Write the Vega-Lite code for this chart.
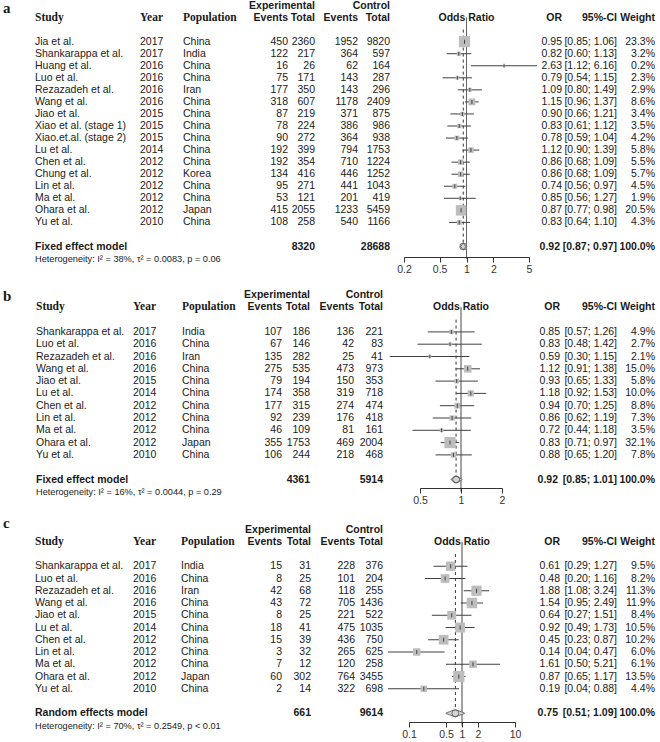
{
"$schema":"https://vega.github.io/schema/vega-lite/v6.json",
"padding":0,
"background":"white",
"spacing":0,
"config":{"view":{"stroke":null},"text":{"font":"Liberation Sans","fontSize":10.5,"color":"#1a1a1a","baseline":"middle"}},
"datasets":{
"a":[
{"study":"Jia et al.","year":2017,"pop":"China","ee":450,"et":2360,"ce":1952,"ct":9820,"or":0.95,"lo":0.85,"hi":1.06,"ci":"[0.85; 1.06]","w":0.233},
{"study":"Shankarappa et al.","year":2017,"pop":"India","ee":122,"et":217,"ce":364,"ct":597,"or":0.82,"lo":0.60,"hi":1.13,"ci":"[0.60; 1.13]","w":0.032},
{"study":"Huang et al.","year":2016,"pop":"China","ee":16,"et":26,"ce":62,"ct":164,"or":2.63,"lo":1.12,"hi":6.16,"ci":"[1.12; 6.16]","w":0.002},
{"study":"Luo et al.","year":2016,"pop":"China","ee":75,"et":171,"ce":143,"ct":287,"or":0.79,"lo":0.54,"hi":1.15,"ci":"[0.54; 1.15]","w":0.023},
{"study":"Rezazadeh et al.","year":2016,"pop":"Iran","ee":177,"et":350,"ce":143,"ct":296,"or":1.09,"lo":0.80,"hi":1.49,"ci":"[0.80; 1.49]","w":0.029},
{"study":"Wang et al.","year":2016,"pop":"China","ee":318,"et":607,"ce":1178,"ct":2409,"or":1.15,"lo":0.96,"hi":1.37,"ci":"[0.96; 1.37]","w":0.086},
{"study":"Jiao et al.","year":2015,"pop":"China","ee":87,"et":219,"ce":371,"ct":875,"or":0.90,"lo":0.66,"hi":1.21,"ci":"[0.66; 1.21]","w":0.034},
{"study":"Xiao et al. (stage 1)","year":2015,"pop":"China","ee":78,"et":224,"ce":386,"ct":986,"or":0.83,"lo":0.61,"hi":1.12,"ci":"[0.61; 1.12]","w":0.035},
{"study":"Xiao.et.al. (stage 2)","year":2015,"pop":"China","ee":90,"et":272,"ce":364,"ct":938,"or":0.78,"lo":0.59,"hi":1.04,"ci":"[0.59; 1.04]","w":0.042},
{"study":"Lu et al.","year":2014,"pop":"China","ee":192,"et":399,"ce":794,"ct":1753,"or":1.12,"lo":0.90,"hi":1.39,"ci":"[0.90; 1.39]","w":0.058},
{"study":"Chen et al.","year":2012,"pop":"China","ee":192,"et":354,"ce":710,"ct":1224,"or":0.86,"lo":0.68,"hi":1.09,"ci":"[0.68; 1.09]","w":0.055},
{"study":"Chung et al.","year":2012,"pop":"Korea","ee":134,"et":416,"ce":446,"ct":1252,"or":0.86,"lo":0.68,"hi":1.09,"ci":"[0.68; 1.09]","w":0.057},
{"study":"Lin et al.","year":2012,"pop":"China","ee":95,"et":271,"ce":441,"ct":1043,"or":0.74,"lo":0.56,"hi":0.97,"ci":"[0.56; 0.97]","w":0.045},
{"study":"Ma et al.","year":2012,"pop":"China","ee":53,"et":121,"ce":201,"ct":419,"or":0.85,"lo":0.56,"hi":1.27,"ci":"[0.56; 1.27]","w":0.019},
{"study":"Ohara et al.","year":2012,"pop":"Japan","ee":415,"et":2055,"ce":1233,"ct":5459,"or":0.87,"lo":0.77,"hi":0.98,"ci":"[0.77; 0.98]","w":0.205},
{"study":"Yu et al.","year":2010,"pop":"China","ee":108,"et":258,"ce":540,"ct":1166,"or":0.83,"lo":0.64,"hi":1.10,"ci":"[0.64; 1.10]","w":0.043}
],
"aS":[{"study":"Fixed effect model","et":8320,"ct":28688,"or":0.92,"lo":0.87,"hi":0.97,"ci":"[0.87; 0.97]","w":1}],
"aH":[{"s":"het","t":"Heterogeneity: I² = 38%, τ² = 0.0083, p = 0.06"}],
"aV":[{"s":"h2","e":"het","x":1,"ref":"null"},{"s":"g1","e":"Fixed effect model","x":0.92,"ref":"pooled"}],
"b":[
{"study":"Shankarappa et al.","year":2017,"pop":"India","ee":107,"et":186,"ce":136,"ct":221,"or":0.85,"lo":0.57,"hi":1.26,"ci":"[0.57; 1.26]","w":0.049},
{"study":"Luo et al.","year":2016,"pop":"China","ee":67,"et":146,"ce":42,"ct":83,"or":0.83,"lo":0.48,"hi":1.42,"ci":"[0.48; 1.42]","w":0.027},
{"study":"Rezazadeh et al.","year":2016,"pop":"Iran","ee":135,"et":282,"ce":25,"ct":41,"or":0.59,"lo":0.30,"hi":1.15,"ci":"[0.30; 1.15]","w":0.021},
{"study":"Wang et al.","year":2016,"pop":"China","ee":275,"et":535,"ce":473,"ct":973,"or":1.12,"lo":0.91,"hi":1.38,"ci":"[0.91; 1.38]","w":0.150},
{"study":"Jiao et al.","year":2015,"pop":"China","ee":79,"et":194,"ce":150,"ct":353,"or":0.93,"lo":0.65,"hi":1.33,"ci":"[0.65; 1.33]","w":0.058},
{"study":"Lu et al.","year":2014,"pop":"China","ee":174,"et":358,"ce":319,"ct":718,"or":1.18,"lo":0.92,"hi":1.53,"ci":"[0.92; 1.53]","w":0.100},
{"study":"Chen et al.","year":2012,"pop":"China","ee":177,"et":315,"ce":274,"ct":474,"or":0.94,"lo":0.70,"hi":1.25,"ci":"[0.70; 1.25]","w":0.088},
{"study":"Lin et al.","year":2012,"pop":"China","ee":92,"et":239,"ce":176,"ct":418,"or":0.86,"lo":0.62,"hi":1.19,"ci":"[0.62; 1.19]","w":0.073},
{"study":"Ma et al.","year":2012,"pop":"China","ee":46,"et":109,"ce":81,"ct":161,"or":0.72,"lo":0.44,"hi":1.18,"ci":"[0.44; 1.18]","w":0.035},
{"study":"Ohara et al.","year":2012,"pop":"Japan","ee":355,"et":1753,"ce":469,"ct":2004,"or":0.83,"lo":0.71,"hi":0.97,"ci":"[0.71; 0.97]","w":0.321},
{"study":"Yu et al.","year":2010,"pop":"China","ee":106,"et":244,"ce":218,"ct":468,"or":0.88,"lo":0.65,"hi":1.20,"ci":"[0.65; 1.20]","w":0.078}
],
"bS":[{"study":"Fixed effect model","et":4361,"ct":5914,"or":0.92,"lo":0.85,"hi":1.01,"ci":"[0.85; 1.01]","w":1}],
"bH":[{"s":"het","t":"Heterogeneity: I² = 16%, τ² = 0.0044, p = 0.29"}],
"bV":[{"s":"h2","e":"het","x":1,"ref":"null"},{"s":"g1","e":"Fixed effect model","x":0.92,"ref":"pooled"}],
"c":[
{"study":"Shankarappa et al.","year":2017,"pop":"India","ee":15,"et":31,"ce":228,"ct":376,"or":0.61,"lo":0.29,"hi":1.27,"ci":"[0.29; 1.27]","w":0.095},
{"study":"Luo et al.","year":2016,"pop":"China","ee":8,"et":25,"ce":101,"ct":204,"or":0.48,"lo":0.20,"hi":1.16,"ci":"[0.20; 1.16]","w":0.082},
{"study":"Rezazadeh et al.","year":2016,"pop":"Iran","ee":42,"et":68,"ce":118,"ct":255,"or":1.88,"lo":1.08,"hi":3.24,"ci":"[1.08; 3.24]","w":0.113},
{"study":"Wang et al.","year":2016,"pop":"China","ee":43,"et":72,"ce":705,"ct":1436,"or":1.54,"lo":0.95,"hi":2.49,"ci":"[0.95; 2.49]","w":0.119},
{"study":"Jiao et al.","year":2015,"pop":"China","ee":8,"et":25,"ce":221,"ct":522,"or":0.64,"lo":0.27,"hi":1.51,"ci":"[0.27; 1.51]","w":0.084},
{"study":"Lu et al.","year":2014,"pop":"China","ee":18,"et":41,"ce":475,"ct":1035,"or":0.92,"lo":0.49,"hi":1.73,"ci":"[0.49; 1.73]","w":0.105},
{"study":"Chen et al.","year":2012,"pop":"China","ee":15,"et":39,"ce":436,"ct":750,"or":0.45,"lo":0.23,"hi":0.87,"ci":"[0.23; 0.87]","w":0.102},
{"study":"Lin et al.","year":2012,"pop":"China","ee":3,"et":32,"ce":265,"ct":625,"or":0.14,"lo":0.04,"hi":0.47,"ci":"[0.04; 0.47]","w":0.060},
{"study":"Ma et al.","year":2012,"pop":"China","ee":7,"et":12,"ce":120,"ct":258,"or":1.61,"lo":0.50,"hi":5.21,"ci":"[0.50; 5.21]","w":0.061},
{"study":"Ohara et al.","year":2012,"pop":"Japan","ee":60,"et":302,"ce":764,"ct":3455,"or":0.87,"lo":0.65,"hi":1.17,"ci":"[0.65; 1.17]","w":0.135},
{"study":"Yu et al.","year":2010,"pop":"China","ee":2,"et":14,"ce":322,"ct":698,"or":0.19,"lo":0.04,"hi":0.88,"ci":"[0.04; 0.88]","w":0.044}
],
"cS":[{"study":"Random effects model","et":661,"ct":9614,"or":0.75,"lo":0.51,"hi":1.09,"ci":"[0.51; 1.09]","w":1}],
"cH":[{"s":"het","t":"Heterogeneity: I² = 70%, τ² = 0.2549, p < 0.01"}],
"cV":[{"s":"h2","e":"het","x":1,"ref":"null"},{"s":"g1","e":"Random effects model","x":0.75,"ref":"pooled"}]
},
"vconcat":[
{"width":660,"height":285,"resolve":{"scale":{"x":"independent","size":"independent"}},
"layer":[
{"data":{"values":[{"t":"a","s":"h1"}]},"mark":{"type":"text","align":"left","font":"Liberation Serif","fontWeight":"bold","fontSize":15,"dy":2},"encoding":{"x":{"datum":0,"type":"quantitative","scale":{"domain":[0,1],"range":[3,4]},"axis":null},"y":{"field":"s","type":"nominal","axis":null},"text":{"field":"t"}}},
{"data":{"name":"a"},"mark":{"type":"text","align":"left"},"encoding":{"x":{"datum":0,"type":"quantitative","scale":{"domain":[0,1],"range":[35,36]},"axis":null},"y":{"field":"study","type":"nominal","axis":null,"scale":{"type":"point","padding":0,"domain":["h1","h2","g1","Jia et al.","Shankarappa et al.","Huang et al.","Luo et al.","Rezazadeh et al.","Wang et al.","Jiao et al.","Xiao et al. (stage 1)","Xiao.et.al. (stage 2)","Lu et al.","Chen et al.","Chung et al.","Lin et al.","Ma et al.","Ohara et al.","Yu et al.","g2","Fixed effect model","het"],"range":[5.5,258.55]}},"text":{"field":"study"}}},
{"data":{"name":"aS"},"mark":{"type":"text","align":"left","fontWeight":"bold"},"encoding":{"x":{"datum":0,"type":"quantitative","scale":{"domain":[0,1],"range":[35,36]},"axis":null},"y":{"field":"study","type":"nominal","axis":null},"text":{"field":"study"}}},
{"data":{"name":"aH"},"mark":{"type":"text","align":"left","fontSize":9.2},"encoding":{"x":{"datum":0,"type":"quantitative","scale":{"domain":[0,1],"range":[35,36]},"axis":null},"y":{"field":"s","type":"nominal","axis":null},"text":{"field":"t"}}},
{"data":{"values":[{"t":"Study","s":"h2"}]},"mark":{"type":"text","align":"left","font":"Liberation Serif","fontWeight":"bold","fontSize":11.5},"encoding":{"x":{"datum":0,"type":"quantitative","scale":{"domain":[0,1],"range":[35,36]},"axis":null},"y":{"field":"s","type":"nominal","axis":null},"text":{"field":"t"}}},
{"data":{"name":"a"},"mark":{"type":"text","align":"left"},"encoding":{"x":{"datum":0,"type":"quantitative","scale":{"domain":[0,1],"range":[140,141]},"axis":null},"y":{"field":"study","type":"nominal","axis":null},"text":{"field":"year","type":"nominal"}}},
{"data":{"values":[{"t":"Year","s":"h2"}]},"mark":{"type":"text","align":"left","font":"Liberation Serif","fontWeight":"bold","fontSize":11.5},"encoding":{"x":{"datum":0,"type":"quantitative","scale":{"domain":[0,1],"range":[140,141]},"axis":null},"y":{"field":"s","type":"nominal","axis":null},"text":{"field":"t"}}},
{"data":{"name":"a"},"mark":{"type":"text","align":"left"},"encoding":{"x":{"datum":0,"type":"quantitative","scale":{"domain":[0,1],"range":[183,184]},"axis":null},"y":{"field":"study","type":"nominal","axis":null},"text":{"field":"pop"}}},
{"data":{"values":[{"t":"Population","s":"h2"}]},"mark":{"type":"text","align":"left","font":"Liberation Serif","fontWeight":"bold","fontSize":11.5},"encoding":{"x":{"datum":0,"type":"quantitative","scale":{"domain":[0,1],"range":[183,184]},"axis":null},"y":{"field":"s","type":"nominal","axis":null},"text":{"field":"t"}}},
{"data":{"name":"a"},"mark":{"type":"text","align":"right"},"encoding":{"x":{"datum":0,"type":"quantitative","scale":{"domain":[0,1],"range":[288,289]},"axis":null},"y":{"field":"study","type":"nominal","axis":null},"text":{"field":"ee","type":"nominal"}}},
{"data":{"values":[{"t":"Events","s":"h2"}]},"mark":{"type":"text","align":"right","fontWeight":"bold"},"encoding":{"x":{"datum":0,"type":"quantitative","scale":{"domain":[0,1],"range":[288,289]},"axis":null},"y":{"field":"s","type":"nominal","axis":null},"text":{"field":"t"}}},
{"data":{"name":"a"},"mark":{"type":"text","align":"right"},"encoding":{"x":{"datum":0,"type":"quantitative","scale":{"domain":[0,1],"range":[315,316]},"axis":null},"y":{"field":"study","type":"nominal","axis":null},"text":{"field":"et","type":"nominal"}}},
{"data":{"name":"aS"},"mark":{"type":"text","align":"right","fontWeight":"bold"},"encoding":{"x":{"datum":0,"type":"quantitative","scale":{"domain":[0,1],"range":[315,316]},"axis":null},"y":{"field":"study","type":"nominal","axis":null},"text":{"field":"et","type":"nominal"}}},
{"data":{"values":[{"t":"Experimental","s":"h1"},{"t":"Total","s":"h2"}]},"mark":{"type":"text","align":"right","fontWeight":"bold"},"encoding":{"x":{"datum":0,"type":"quantitative","scale":{"domain":[0,1],"range":[315,316]},"axis":null},"y":{"field":"s","type":"nominal","axis":null},"text":{"field":"t"}}},
{"data":{"name":"a"},"mark":{"type":"text","align":"right"},"encoding":{"x":{"datum":0,"type":"quantitative","scale":{"domain":[0,1],"range":[358,359]},"axis":null},"y":{"field":"study","type":"nominal","axis":null},"text":{"field":"ce","type":"nominal"}}},
{"data":{"values":[{"t":"Events","s":"h2"}]},"mark":{"type":"text","align":"right","fontWeight":"bold"},"encoding":{"x":{"datum":0,"type":"quantitative","scale":{"domain":[0,1],"range":[358,359]},"axis":null},"y":{"field":"s","type":"nominal","axis":null},"text":{"field":"t"}}},
{"data":{"name":"a"},"mark":{"type":"text","align":"right"},"encoding":{"x":{"datum":0,"type":"quantitative","scale":{"domain":[0,1],"range":[390,391]},"axis":null},"y":{"field":"study","type":"nominal","axis":null},"text":{"field":"ct","type":"nominal"}}},
{"data":{"name":"aS"},"mark":{"type":"text","align":"right","fontWeight":"bold"},"encoding":{"x":{"datum":0,"type":"quantitative","scale":{"domain":[0,1],"range":[390,391]},"axis":null},"y":{"field":"study","type":"nominal","axis":null},"text":{"field":"ct","type":"nominal"}}},
{"data":{"values":[{"t":"Control","s":"h1"},{"t":"Total","s":"h2"}]},"mark":{"type":"text","align":"right","fontWeight":"bold"},"encoding":{"x":{"datum":0,"type":"quantitative","scale":{"domain":[0,1],"range":[390,391]},"axis":null},"y":{"field":"s","type":"nominal","axis":null},"text":{"field":"t"}}},
{"data":{"name":"aV"},"mark":{"type":"rule","color":"#333","strokeWidth":1},"encoding":{"x":{"field":"x","type":"quantitative","scale":{"type":"log","domain":[0.2,5],"range":[404,529],"nice":false},"axis":{"values":[0.2,0.5,1,2,5],"format":"~g","title":null,"grid":false,"offset":-28,"domainColor":"#333","tickColor":"#333","tickSize":5,"labelFont":"Liberation Sans","labelFontSize":10.5,"labelColor":"#333","labelPadding":2,"labelFlush":false,"labelOverlap":false}},"y":{"field":"s","type":"nominal","axis":null},"y2":{"field":"e"},"strokeDash":{"field":"ref","type":"nominal","scale":{"domain":["null","pooled"],"range":[[1,0],[3,3]]},"legend":null}}},
{"data":{"name":"a"},"mark":{"type":"rule","color":"#404040","strokeWidth":1},"encoding":{"x":{"field":"lo","type":"quantitative","scale":{"type":"log","domain":[0.2,5],"range":[404,529],"nice":false},"axis":null},"x2":{"field":"hi"},"y":{"field":"study","type":"nominal","axis":null}}},
{"data":{"name":"a"},"mark":{"type":"point","shape":"square","filled":true,"color":"#bdbdbd","opacity":1,"strokeWidth":0},"encoding":{"x":{"field":"or","type":"quantitative","scale":{"type":"log","domain":[0.2,5],"range":[404,529],"nice":false},"axis":null},"y":{"field":"study","type":"nominal","axis":null},"size":{"field":"w","type":"quantitative","scale":{"domain":[0,0.233],"range":[0,125]},"legend":null}}},
{"data":{"name":"a"},"mark":{"type":"tick","color":"#111","size":4,"thickness":1},"encoding":{"x":{"field":"or","type":"quantitative","scale":{"type":"log","domain":[0.2,5],"range":[404,529],"nice":false},"axis":null},"y":{"field":"study","type":"nominal","axis":null}}},
{"data":{"name":"aS"},"transform":[{"fold":["lo","or","hi"],"as":["k","v"]}],"mark":{"type":"trail","fill":"#d4d4d4","stroke":"#555","strokeWidth":0.8},"encoding":{"x":{"field":"v","type":"quantitative","scale":{"type":"log","domain":[0.2,5],"range":[404,529],"nice":false},"axis":null},"y":{"field":"study","type":"nominal","axis":null},"size":{"field":"k","type":"nominal","scale":{"type":"ordinal","domain":["lo","or","hi"],"range":[0,7,0]},"legend":null},"order":{"field":"v","type":"quantitative"}}},
{"data":{"values":[{"t":"Odds Ratio","s":"h2"}]},"mark":{"type":"text","align":"center","fontWeight":"bold"},"encoding":{"x":{"datum":1,"type":"quantitative","scale":{"type":"log","domain":[0.2,5],"range":[404,529],"nice":false},"axis":null},"y":{"field":"s","type":"nominal","axis":null},"text":{"field":"t"}}},
{"data":{"name":"a"},"mark":{"type":"text","align":"right"},"encoding":{"x":{"datum":0,"type":"quantitative","scale":{"domain":[0,1],"range":[562,563]},"axis":null},"y":{"field":"study","type":"nominal","axis":null},"text":{"field":"or","type":"quantitative","format":".2f"}}},
{"data":{"name":"aS"},"mark":{"type":"text","align":"right","fontWeight":"bold","dx":-2},"encoding":{"x":{"datum":0,"type":"quantitative","scale":{"domain":[0,1],"range":[562,563]},"axis":null},"y":{"field":"study","type":"nominal","axis":null},"text":{"field":"or","type":"quantitative","format":".2f"}}},
{"data":{"values":[{"t":"OR","s":"h2"}]},"mark":{"type":"text","align":"right","fontWeight":"bold"},"encoding":{"x":{"datum":0,"type":"quantitative","scale":{"domain":[0,1],"range":[562,563]},"axis":null},"y":{"field":"s","type":"nominal","axis":null},"text":{"field":"t"}}},
{"data":{"name":"a"},"mark":{"type":"text","align":"right"},"encoding":{"x":{"datum":0,"type":"quantitative","scale":{"domain":[0,1],"range":[617,618]},"axis":null},"y":{"field":"study","type":"nominal","axis":null},"text":{"field":"ci"}}},
{"data":{"name":"aS"},"mark":{"type":"text","align":"right","fontWeight":"bold"},"encoding":{"x":{"datum":0,"type":"quantitative","scale":{"domain":[0,1],"range":[617,618]},"axis":null},"y":{"field":"study","type":"nominal","axis":null},"text":{"field":"ci"}}},
{"data":{"values":[{"t":"95%-CI","s":"h2"}]},"mark":{"type":"text","align":"right","fontWeight":"bold"},"encoding":{"x":{"datum":0,"type":"quantitative","scale":{"domain":[0,1],"range":[617,618]},"axis":null},"y":{"field":"s","type":"nominal","axis":null},"text":{"field":"t"}}},
{"data":{"name":"a"},"mark":{"type":"text","align":"right"},"encoding":{"x":{"datum":0,"type":"quantitative","scale":{"domain":[0,1],"range":[655,656]},"axis":null},"y":{"field":"study","type":"nominal","axis":null},"text":{"field":"w","type":"quantitative","format":".1%"}}},
{"data":{"name":"aS"},"mark":{"type":"text","align":"right","fontWeight":"bold"},"encoding":{"x":{"datum":0,"type":"quantitative","scale":{"domain":[0,1],"range":[655,656]},"axis":null},"y":{"field":"study","type":"nominal","axis":null},"text":{"field":"w","type":"quantitative","format":".1%"}}},
{"data":{"values":[{"t":"Weight","s":"h2"}]},"mark":{"type":"text","align":"right","fontWeight":"bold"},"encoding":{"x":{"datum":0,"type":"quantitative","scale":{"domain":[0,1],"range":[655,656]},"axis":null},"y":{"field":"s","type":"nominal","axis":null},"text":{"field":"t"}}}
]},
{"width":660,"height":230,"resolve":{"scale":{"x":"independent","size":"independent"}},
"layer":[
{"data":{"values":[{"t":"b","s":"h1"}]},"mark":{"type":"text","align":"left","font":"Liberation Serif","fontWeight":"bold","fontSize":15,"dy":1},"encoding":{"x":{"datum":0,"type":"quantitative","scale":{"domain":[0,1],"range":[3,4]},"axis":null},"y":{"field":"s","type":"nominal","axis":null},"text":{"field":"t"}}},
{"data":{"name":"b"},"mark":{"type":"text","align":"left"},"encoding":{"x":{"datum":0,"type":"quantitative","scale":{"domain":[0,1],"range":[36,37]},"axis":null},"y":{"field":"study","type":"nominal","axis":null,"scale":{"type":"point","padding":0,"domain":["h1","h2","g1","Shankarappa et al.","Luo et al.","Rezazadeh et al.","Wang et al.","Jiao et al.","Lu et al.","Chen et al.","Lin et al.","Ma et al.","Ohara et al.","Yu et al.","g2","Fixed effect model","het"],"range":[10,206.8]}},"text":{"field":"study"}}},
{"data":{"name":"bS"},"mark":{"type":"text","align":"left","fontWeight":"bold"},"encoding":{"x":{"datum":0,"type":"quantitative","scale":{"domain":[0,1],"range":[36,37]},"axis":null},"y":{"field":"study","type":"nominal","axis":null},"text":{"field":"study"}}},
{"data":{"name":"bH"},"mark":{"type":"text","align":"left","fontSize":9.2},"encoding":{"x":{"datum":0,"type":"quantitative","scale":{"domain":[0,1],"range":[36,37]},"axis":null},"y":{"field":"s","type":"nominal","axis":null},"text":{"field":"t"}}},
{"data":{"values":[{"t":"Study","s":"h2"}]},"mark":{"type":"text","align":"left","font":"Liberation Serif","fontWeight":"bold","fontSize":11.5},"encoding":{"x":{"datum":0,"type":"quantitative","scale":{"domain":[0,1],"range":[36,37]},"axis":null},"y":{"field":"s","type":"nominal","axis":null},"text":{"field":"t"}}},
{"data":{"name":"b"},"mark":{"type":"text","align":"left"},"encoding":{"x":{"datum":0,"type":"quantitative","scale":{"domain":[0,1],"range":[133,134]},"axis":null},"y":{"field":"study","type":"nominal","axis":null},"text":{"field":"year","type":"nominal"}}},
{"data":{"values":[{"t":"Year","s":"h2"}]},"mark":{"type":"text","align":"left","font":"Liberation Serif","fontWeight":"bold","fontSize":11.5},"encoding":{"x":{"datum":0,"type":"quantitative","scale":{"domain":[0,1],"range":[133,134]},"axis":null},"y":{"field":"s","type":"nominal","axis":null},"text":{"field":"t"}}},
{"data":{"name":"b"},"mark":{"type":"text","align":"left"},"encoding":{"x":{"datum":0,"type":"quantitative","scale":{"domain":[0,1],"range":[182,183]},"axis":null},"y":{"field":"study","type":"nominal","axis":null},"text":{"field":"pop"}}},
{"data":{"values":[{"t":"Population","s":"h2"}]},"mark":{"type":"text","align":"left","font":"Liberation Serif","fontWeight":"bold","fontSize":11.5},"encoding":{"x":{"datum":0,"type":"quantitative","scale":{"domain":[0,1],"range":[182,183]},"axis":null},"y":{"field":"s","type":"nominal","axis":null},"text":{"field":"t"}}},
{"data":{"name":"b"},"mark":{"type":"text","align":"right"},"encoding":{"x":{"datum":0,"type":"quantitative","scale":{"domain":[0,1],"range":[282,283]},"axis":null},"y":{"field":"study","type":"nominal","axis":null},"text":{"field":"ee","type":"nominal"}}},
{"data":{"values":[{"t":"Events","s":"h2"}]},"mark":{"type":"text","align":"right","fontWeight":"bold"},"encoding":{"x":{"datum":0,"type":"quantitative","scale":{"domain":[0,1],"range":[282,283]},"axis":null},"y":{"field":"s","type":"nominal","axis":null},"text":{"field":"t"}}},
{"data":{"name":"b"},"mark":{"type":"text","align":"right"},"encoding":{"x":{"datum":0,"type":"quantitative","scale":{"domain":[0,1],"range":[310,311]},"axis":null},"y":{"field":"study","type":"nominal","axis":null},"text":{"field":"et","type":"nominal"}}},
{"data":{"name":"bS"},"mark":{"type":"text","align":"right","fontWeight":"bold"},"encoding":{"x":{"datum":0,"type":"quantitative","scale":{"domain":[0,1],"range":[310,311]},"axis":null},"y":{"field":"study","type":"nominal","axis":null},"text":{"field":"et","type":"nominal"}}},
{"data":{"values":[{"t":"Experimental","s":"h1"},{"t":"Total","s":"h2"}]},"mark":{"type":"text","align":"right","fontWeight":"bold"},"encoding":{"x":{"datum":0,"type":"quantitative","scale":{"domain":[0,1],"range":[310,311]},"axis":null},"y":{"field":"s","type":"nominal","axis":null},"text":{"field":"t"}}},
{"data":{"name":"b"},"mark":{"type":"text","align":"right"},"encoding":{"x":{"datum":0,"type":"quantitative","scale":{"domain":[0,1],"range":[354,355]},"axis":null},"y":{"field":"study","type":"nominal","axis":null},"text":{"field":"ce","type":"nominal"}}},
{"data":{"values":[{"t":"Events","s":"h2"}]},"mark":{"type":"text","align":"right","fontWeight":"bold"},"encoding":{"x":{"datum":0,"type":"quantitative","scale":{"domain":[0,1],"range":[354,355]},"axis":null},"y":{"field":"s","type":"nominal","axis":null},"text":{"field":"t"}}},
{"data":{"name":"b"},"mark":{"type":"text","align":"right"},"encoding":{"x":{"datum":0,"type":"quantitative","scale":{"domain":[0,1],"range":[383,384]},"axis":null},"y":{"field":"study","type":"nominal","axis":null},"text":{"field":"ct","type":"nominal"}}},
{"data":{"name":"bS"},"mark":{"type":"text","align":"right","fontWeight":"bold"},"encoding":{"x":{"datum":0,"type":"quantitative","scale":{"domain":[0,1],"range":[383,384]},"axis":null},"y":{"field":"study","type":"nominal","axis":null},"text":{"field":"ct","type":"nominal"}}},
{"data":{"values":[{"t":"Control","s":"h1"},{"t":"Total","s":"h2"}]},"mark":{"type":"text","align":"right","fontWeight":"bold"},"encoding":{"x":{"datum":0,"type":"quantitative","scale":{"domain":[0,1],"range":[383,384]},"axis":null},"y":{"field":"s","type":"nominal","axis":null},"text":{"field":"t"}}},
{"data":{"name":"bV"},"mark":{"type":"rule","color":"#333","strokeWidth":1},"encoding":{"x":{"field":"x","type":"quantitative","scale":{"type":"log","domain":[0.5,2],"range":[420,502],"nice":false},"axis":{"values":[0.5,1,2],"format":"~g","title":null,"grid":false,"offset":-27,"domainColor":"#333","tickColor":"#333","tickSize":5,"labelFont":"Liberation Sans","labelFontSize":10.5,"labelColor":"#333","labelPadding":2,"labelFlush":false,"labelOverlap":false}},"y":{"field":"s","type":"nominal","axis":null},"y2":{"field":"e"},"strokeDash":{"field":"ref","type":"nominal","scale":{"domain":["null","pooled"],"range":[[1,0],[3,3]]},"legend":null}}},
{"data":{"name":"b"},"mark":{"type":"rule","color":"#404040","strokeWidth":1},"encoding":{"x":{"field":"lo","type":"quantitative","scale":{"type":"log","domain":[0.5,2],"range":[420,502],"nice":false},"axis":null},"x2":{"field":"hi"},"y":{"field":"study","type":"nominal","axis":null}}},
{"data":{"name":"b"},"mark":{"type":"point","shape":"square","filled":true,"color":"#bdbdbd","opacity":1,"strokeWidth":0},"encoding":{"x":{"field":"or","type":"quantitative","scale":{"type":"log","domain":[0.5,2],"range":[420,502],"nice":false},"axis":null},"y":{"field":"study","type":"nominal","axis":null},"size":{"field":"w","type":"quantitative","scale":{"domain":[0,0.321],"range":[0,125]},"legend":null}}},
{"data":{"name":"b"},"mark":{"type":"tick","color":"#111","size":4,"thickness":1},"encoding":{"x":{"field":"or","type":"quantitative","scale":{"type":"log","domain":[0.5,2],"range":[420,502],"nice":false},"axis":null},"y":{"field":"study","type":"nominal","axis":null}}},
{"data":{"name":"bS"},"transform":[{"fold":["lo","or","hi"],"as":["k","v"]}],"mark":{"type":"trail","fill":"#d4d4d4","stroke":"#555","strokeWidth":0.8},"encoding":{"x":{"field":"v","type":"quantitative","scale":{"type":"log","domain":[0.5,2],"range":[420,502],"nice":false},"axis":null},"y":{"field":"study","type":"nominal","axis":null},"size":{"field":"k","type":"nominal","scale":{"type":"ordinal","domain":["lo","or","hi"],"range":[0,7,0]},"legend":null},"order":{"field":"v","type":"quantitative"}}},
{"data":{"values":[{"t":"Odds Ratio","s":"h2"}]},"mark":{"type":"text","align":"center","fontWeight":"bold"},"encoding":{"x":{"datum":1,"type":"quantitative","scale":{"type":"log","domain":[0.5,2],"range":[420,502],"nice":false},"axis":null},"y":{"field":"s","type":"nominal","axis":null},"text":{"field":"t"}}},
{"data":{"name":"b"},"mark":{"type":"text","align":"right"},"encoding":{"x":{"datum":0,"type":"quantitative","scale":{"domain":[0,1],"range":[560,561]},"axis":null},"y":{"field":"study","type":"nominal","axis":null},"text":{"field":"or","type":"quantitative","format":".2f"}}},
{"data":{"name":"bS"},"mark":{"type":"text","align":"right","fontWeight":"bold","dx":-2},"encoding":{"x":{"datum":0,"type":"quantitative","scale":{"domain":[0,1],"range":[560,561]},"axis":null},"y":{"field":"study","type":"nominal","axis":null},"text":{"field":"or","type":"quantitative","format":".2f"}}},
{"data":{"values":[{"t":"OR","s":"h2"}]},"mark":{"type":"text","align":"right","fontWeight":"bold"},"encoding":{"x":{"datum":0,"type":"quantitative","scale":{"domain":[0,1],"range":[560,561]},"axis":null},"y":{"field":"s","type":"nominal","axis":null},"text":{"field":"t"}}},
{"data":{"name":"b"},"mark":{"type":"text","align":"right"},"encoding":{"x":{"datum":0,"type":"quantitative","scale":{"domain":[0,1],"range":[617,618]},"axis":null},"y":{"field":"study","type":"nominal","axis":null},"text":{"field":"ci"}}},
{"data":{"name":"bS"},"mark":{"type":"text","align":"right","fontWeight":"bold"},"encoding":{"x":{"datum":0,"type":"quantitative","scale":{"domain":[0,1],"range":[617,618]},"axis":null},"y":{"field":"study","type":"nominal","axis":null},"text":{"field":"ci"}}},
{"data":{"values":[{"t":"95%-CI","s":"h2"}]},"mark":{"type":"text","align":"right","fontWeight":"bold"},"encoding":{"x":{"datum":0,"type":"quantitative","scale":{"domain":[0,1],"range":[617,618]},"axis":null},"y":{"field":"s","type":"nominal","axis":null},"text":{"field":"t"}}},
{"data":{"name":"b"},"mark":{"type":"text","align":"right"},"encoding":{"x":{"datum":0,"type":"quantitative","scale":{"domain":[0,1],"range":[655,656]},"axis":null},"y":{"field":"study","type":"nominal","axis":null},"text":{"field":"w","type":"quantitative","format":".1%"}}},
{"data":{"name":"bS"},"mark":{"type":"text","align":"right","fontWeight":"bold"},"encoding":{"x":{"datum":0,"type":"quantitative","scale":{"domain":[0,1],"range":[655,656]},"axis":null},"y":{"field":"study","type":"nominal","axis":null},"text":{"field":"w","type":"quantitative","format":".1%"}}},
{"data":{"values":[{"t":"Weight","s":"h2"}]},"mark":{"type":"text","align":"right","fontWeight":"bold"},"encoding":{"x":{"datum":0,"type":"quantitative","scale":{"domain":[0,1],"range":[655,656]},"axis":null},"y":{"field":"s","type":"nominal","axis":null},"text":{"field":"t"}}}
]},
{"width":660,"height":227,"resolve":{"scale":{"x":"independent","size":"independent"}},
"layer":[
{"data":{"values":[{"t":"c","s":"h1"}]},"mark":{"type":"text","align":"left","font":"Liberation Serif","fontWeight":"bold","fontSize":15,"dy":-7},"encoding":{"x":{"datum":0,"type":"quantitative","scale":{"domain":[0,1],"range":[3,4]},"axis":null},"y":{"field":"s","type":"nominal","axis":null},"text":{"field":"t"}}},
{"data":{"name":"c"},"mark":{"type":"text","align":"left"},"encoding":{"x":{"datum":0,"type":"quantitative","scale":{"domain":[0,1],"range":[35,36]},"axis":null},"y":{"field":"study","type":"nominal","axis":null,"scale":{"type":"point","padding":0,"domain":["h1","h2","g1","Shankarappa et al.","Luo et al.","Rezazadeh et al.","Wang et al.","Jiao et al.","Lu et al.","Chen et al.","Lin et al.","Ma et al.","Ohara et al.","Yu et al.","g2","Random effects model","het"],"range":[14.5,210.5]}},"text":{"field":"study"}}},
{"data":{"name":"cS"},"mark":{"type":"text","align":"left","fontWeight":"bold"},"encoding":{"x":{"datum":0,"type":"quantitative","scale":{"domain":[0,1],"range":[35,36]},"axis":null},"y":{"field":"study","type":"nominal","axis":null},"text":{"field":"study"}}},
{"data":{"name":"cH"},"mark":{"type":"text","align":"left","fontSize":9.2},"encoding":{"x":{"datum":0,"type":"quantitative","scale":{"domain":[0,1],"range":[35,36]},"axis":null},"y":{"field":"s","type":"nominal","axis":null},"text":{"field":"t"}}},
{"data":{"values":[{"t":"Study","s":"h2"}]},"mark":{"type":"text","align":"left","font":"Liberation Serif","fontWeight":"bold","fontSize":11.5},"encoding":{"x":{"datum":0,"type":"quantitative","scale":{"domain":[0,1],"range":[35,36]},"axis":null},"y":{"field":"s","type":"nominal","axis":null},"text":{"field":"t"}}},
{"data":{"name":"c"},"mark":{"type":"text","align":"left"},"encoding":{"x":{"datum":0,"type":"quantitative","scale":{"domain":[0,1],"range":[133,134]},"axis":null},"y":{"field":"study","type":"nominal","axis":null},"text":{"field":"year","type":"nominal"}}},
{"data":{"values":[{"t":"Year","s":"h2"}]},"mark":{"type":"text","align":"left","font":"Liberation Serif","fontWeight":"bold","fontSize":11.5},"encoding":{"x":{"datum":0,"type":"quantitative","scale":{"domain":[0,1],"range":[133,134]},"axis":null},"y":{"field":"s","type":"nominal","axis":null},"text":{"field":"t"}}},
{"data":{"name":"c"},"mark":{"type":"text","align":"left"},"encoding":{"x":{"datum":0,"type":"quantitative","scale":{"domain":[0,1],"range":[181,182]},"axis":null},"y":{"field":"study","type":"nominal","axis":null},"text":{"field":"pop"}}},
{"data":{"values":[{"t":"Population","s":"h2"}]},"mark":{"type":"text","align":"left","font":"Liberation Serif","fontWeight":"bold","fontSize":11.5},"encoding":{"x":{"datum":0,"type":"quantitative","scale":{"domain":[0,1],"range":[181,182]},"axis":null},"y":{"field":"s","type":"nominal","axis":null},"text":{"field":"t"}}},
{"data":{"name":"c"},"mark":{"type":"text","align":"right"},"encoding":{"x":{"datum":0,"type":"quantitative","scale":{"domain":[0,1],"range":[282,283]},"axis":null},"y":{"field":"study","type":"nominal","axis":null},"text":{"field":"ee","type":"nominal"}}},
{"data":{"values":[{"t":"Events","s":"h2"}]},"mark":{"type":"text","align":"right","fontWeight":"bold"},"encoding":{"x":{"datum":0,"type":"quantitative","scale":{"domain":[0,1],"range":[282,283]},"axis":null},"y":{"field":"s","type":"nominal","axis":null},"text":{"field":"t"}}},
{"data":{"name":"c"},"mark":{"type":"text","align":"right"},"encoding":{"x":{"datum":0,"type":"quantitative","scale":{"domain":[0,1],"range":[311,312]},"axis":null},"y":{"field":"study","type":"nominal","axis":null},"text":{"field":"et","type":"nominal"}}},
{"data":{"name":"cS"},"mark":{"type":"text","align":"right","fontWeight":"bold"},"encoding":{"x":{"datum":0,"type":"quantitative","scale":{"domain":[0,1],"range":[311,312]},"axis":null},"y":{"field":"study","type":"nominal","axis":null},"text":{"field":"et","type":"nominal"}}},
{"data":{"values":[{"t":"Experimental","s":"h1"},{"t":"Total","s":"h2"}]},"mark":{"type":"text","align":"right","fontWeight":"bold"},"encoding":{"x":{"datum":0,"type":"quantitative","scale":{"domain":[0,1],"range":[311,312]},"axis":null},"y":{"field":"s","type":"nominal","axis":null},"text":{"field":"t"}}},
{"data":{"name":"c"},"mark":{"type":"text","align":"right"},"encoding":{"x":{"datum":0,"type":"quantitative","scale":{"domain":[0,1],"range":[355,356]},"axis":null},"y":{"field":"study","type":"nominal","axis":null},"text":{"field":"ce","type":"nominal"}}},
{"data":{"values":[{"t":"Events","s":"h2"}]},"mark":{"type":"text","align":"right","fontWeight":"bold"},"encoding":{"x":{"datum":0,"type":"quantitative","scale":{"domain":[0,1],"range":[355,356]},"axis":null},"y":{"field":"s","type":"nominal","axis":null},"text":{"field":"t"}}},
{"data":{"name":"c"},"mark":{"type":"text","align":"right"},"encoding":{"x":{"datum":0,"type":"quantitative","scale":{"domain":[0,1],"range":[383,384]},"axis":null},"y":{"field":"study","type":"nominal","axis":null},"text":{"field":"ct","type":"nominal"}}},
{"data":{"name":"cS"},"mark":{"type":"text","align":"right","fontWeight":"bold"},"encoding":{"x":{"datum":0,"type":"quantitative","scale":{"domain":[0,1],"range":[383,384]},"axis":null},"y":{"field":"study","type":"nominal","axis":null},"text":{"field":"ct","type":"nominal"}}},
{"data":{"values":[{"t":"Control","s":"h1"},{"t":"Total","s":"h2"}]},"mark":{"type":"text","align":"right","fontWeight":"bold"},"encoding":{"x":{"datum":0,"type":"quantitative","scale":{"domain":[0,1],"range":[383,384]},"axis":null},"y":{"field":"s","type":"nominal","axis":null},"text":{"field":"t"}}},
{"data":{"name":"cV"},"mark":{"type":"rule","color":"#333","strokeWidth":1},"encoding":{"x":{"field":"x","type":"quantitative","scale":{"type":"log","domain":[0.1,10],"range":[409,515],"nice":false},"axis":{"values":[0.1,0.5,1,2,10],"format":"~g","title":null,"grid":false,"offset":-20,"domainColor":"#333","tickColor":"#333","tickSize":5,"labelFont":"Liberation Sans","labelFontSize":10.5,"labelColor":"#333","labelPadding":2,"labelFlush":false,"labelOverlap":false}},"y":{"field":"s","type":"nominal","axis":null},"y2":{"field":"e"},"strokeDash":{"field":"ref","type":"nominal","scale":{"domain":["null","pooled"],"range":[[1,0],[1,2]]},"legend":null}}},
{"data":{"name":"c"},"mark":{"type":"rule","color":"#404040","strokeWidth":1},"encoding":{"x":{"field":"lo","type":"quantitative","scale":{"type":"log","domain":[0.1,10],"range":[409,515],"nice":false},"axis":null},"x2":{"field":"hi"},"y":{"field":"study","type":"nominal","axis":null}}},
{"data":{"name":"c"},"mark":{"type":"point","shape":"square","filled":true,"color":"#bdbdbd","opacity":1,"strokeWidth":0},"encoding":{"x":{"field":"or","type":"quantitative","scale":{"type":"log","domain":[0.1,10],"range":[409,515],"nice":false},"axis":null},"y":{"field":"study","type":"nominal","axis":null},"size":{"field":"w","type":"quantitative","scale":{"domain":[0,0.135],"range":[0,125]},"legend":null}}},
{"data":{"name":"c"},"mark":{"type":"tick","color":"#111","size":4,"thickness":1},"encoding":{"x":{"field":"or","type":"quantitative","scale":{"type":"log","domain":[0.1,10],"range":[409,515],"nice":false},"axis":null},"y":{"field":"study","type":"nominal","axis":null}}},
{"data":{"name":"cS"},"transform":[{"fold":["lo","or","hi"],"as":["k","v"]}],"mark":{"type":"trail","fill":"#d4d4d4","stroke":"#555","strokeWidth":0.8},"encoding":{"x":{"field":"v","type":"quantitative","scale":{"type":"log","domain":[0.1,10],"range":[409,515],"nice":false},"axis":null},"y":{"field":"study","type":"nominal","axis":null},"size":{"field":"k","type":"nominal","scale":{"type":"ordinal","domain":["lo","or","hi"],"range":[0,7,0]},"legend":null},"order":{"field":"v","type":"quantitative"}}},
{"data":{"values":[{"t":"Odds Ratio","s":"h2"}]},"mark":{"type":"text","align":"center","fontWeight":"bold"},"encoding":{"x":{"datum":1,"type":"quantitative","scale":{"type":"log","domain":[0.1,10],"range":[409,515],"nice":false},"axis":null},"y":{"field":"s","type":"nominal","axis":null},"text":{"field":"t"}}},
{"data":{"name":"c"},"mark":{"type":"text","align":"right"},"encoding":{"x":{"datum":0,"type":"quantitative","scale":{"domain":[0,1],"range":[560,561]},"axis":null},"y":{"field":"study","type":"nominal","axis":null},"text":{"field":"or","type":"quantitative","format":".2f"}}},
{"data":{"name":"cS"},"mark":{"type":"text","align":"right","fontWeight":"bold","dx":-2},"encoding":{"x":{"datum":0,"type":"quantitative","scale":{"domain":[0,1],"range":[560,561]},"axis":null},"y":{"field":"study","type":"nominal","axis":null},"text":{"field":"or","type":"quantitative","format":".2f"}}},
{"data":{"values":[{"t":"OR","s":"h2"}]},"mark":{"type":"text","align":"right","fontWeight":"bold"},"encoding":{"x":{"datum":0,"type":"quantitative","scale":{"domain":[0,1],"range":[560,561]},"axis":null},"y":{"field":"s","type":"nominal","axis":null},"text":{"field":"t"}}},
{"data":{"name":"c"},"mark":{"type":"text","align":"right"},"encoding":{"x":{"datum":0,"type":"quantitative","scale":{"domain":[0,1],"range":[617,618]},"axis":null},"y":{"field":"study","type":"nominal","axis":null},"text":{"field":"ci"}}},
{"data":{"name":"cS"},"mark":{"type":"text","align":"right","fontWeight":"bold"},"encoding":{"x":{"datum":0,"type":"quantitative","scale":{"domain":[0,1],"range":[617,618]},"axis":null},"y":{"field":"study","type":"nominal","axis":null},"text":{"field":"ci"}}},
{"data":{"values":[{"t":"95%-CI","s":"h2"}]},"mark":{"type":"text","align":"right","fontWeight":"bold"},"encoding":{"x":{"datum":0,"type":"quantitative","scale":{"domain":[0,1],"range":[617,618]},"axis":null},"y":{"field":"s","type":"nominal","axis":null},"text":{"field":"t"}}},
{"data":{"name":"c"},"mark":{"type":"text","align":"right"},"encoding":{"x":{"datum":0,"type":"quantitative","scale":{"domain":[0,1],"range":[655,656]},"axis":null},"y":{"field":"study","type":"nominal","axis":null},"text":{"field":"w","type":"quantitative","format":".1%"}}},
{"data":{"name":"cS"},"mark":{"type":"text","align":"right","fontWeight":"bold"},"encoding":{"x":{"datum":0,"type":"quantitative","scale":{"domain":[0,1],"range":[655,656]},"axis":null},"y":{"field":"study","type":"nominal","axis":null},"text":{"field":"w","type":"quantitative","format":".1%"}}},
{"data":{"values":[{"t":"Weight","s":"h2"}]},"mark":{"type":"text","align":"right","fontWeight":"bold"},"encoding":{"x":{"datum":0,"type":"quantitative","scale":{"domain":[0,1],"range":[655,656]},"axis":null},"y":{"field":"s","type":"nominal","axis":null},"text":{"field":"t"}}}
]}
]
}
